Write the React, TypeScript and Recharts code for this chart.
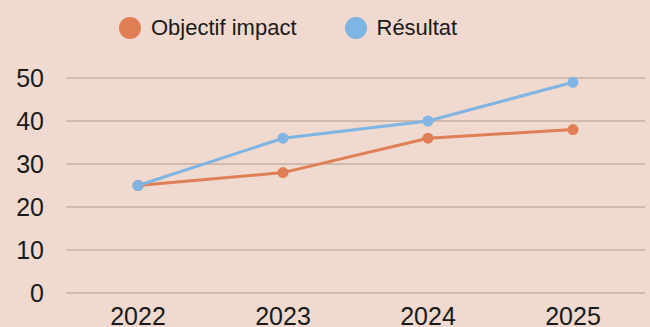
import React from 'react';
import { LineChart, Line, XAxis, YAxis, CartesianGrid } from 'recharts';

const years = ['2022', '2023', '2024', '2025'];
const objectifImpact = [25, 28, 36, 38];
const resultat = [25, 36, 40, 49];
const yTicks = [0, 10, 20, 30, 40, 50];

const ORANGE = '#e07f56';
const BLUE = '#80b4e2';
const BG = '#f0d9ce';
const GRID = '#c6aea2';

const data = years.map((year, i) => ({
  year,
  objectif: objectifImpact[i],
  resultat: resultat[i],
}));

const legendItems = [
  { name: 'Objectif impact', color: ORANGE },
  { name: 'Résultat', color: BLUE },
];

export default function App() {
  return (
    <div
      style={{
        position: 'fixed',
        top: 0,
        left: 0,
        width: 650,
        height: 327,
        background: BG,
        fontFamily: '"Liberation Sans", Arial, sans-serif',
        overflow: 'hidden',
      }}
    >
      <div
        style={{
          position: 'absolute',
          top: 15,
          left: 119,
          display: 'flex',
          alignItems: 'center',
          fontSize: 22,
          color: '#1a1a1a',
        }}
      >
        {legendItems.map((item, i) => (
          <div key={item.name} style={{ display: 'flex', alignItems: 'center', marginRight: i === 0 ? 48 : 0 }}>
            <span
              style={{
                display: 'inline-block',
                width: 22,
                height: 22,
                borderRadius: '50%',
                background: item.color,
                marginRight: 10,
              }}
            />
            <span>{item.name}</span>
          </div>
        ))}
      </div>
      <LineChart width={650} height={327} data={data} margin={{ top: 78, right: 5, left: 0, bottom: 0 }}>
        <CartesianGrid vertical={false} stroke={GRID} strokeWidth={1.5} />
        <XAxis
          dataKey="year"
          axisLine={false}
          tickLine={false}
          height={34}
          tickMargin={8}
          padding={{ left: 72, right: 72 }}
          tick={{ fill: '#1a1a1a', fontSize: 25 }}
        />
        <YAxis
          domain={[0, 50]}
          ticks={yTicks}
          width={66}
          axisLine={false}
          tickLine={false}
          tickMargin={16}
          tick={{ fill: '#1a1a1a', fontSize: 25 }}
        />
        <Line
          dataKey="objectif"
          name="Objectif impact"
          stroke={ORANGE}
          strokeWidth={3}
          dot={{ r: 4, fill: ORANGE, stroke: ORANGE }}
          isAnimationActive={false}
        />
        <Line
          dataKey="resultat"
          name="Résultat"
          stroke={BLUE}
          strokeWidth={3}
          dot={{ r: 4, fill: BLUE, stroke: BLUE }}
          isAnimationActive={false}
        />
      </LineChart>
    </div>
  );
}
